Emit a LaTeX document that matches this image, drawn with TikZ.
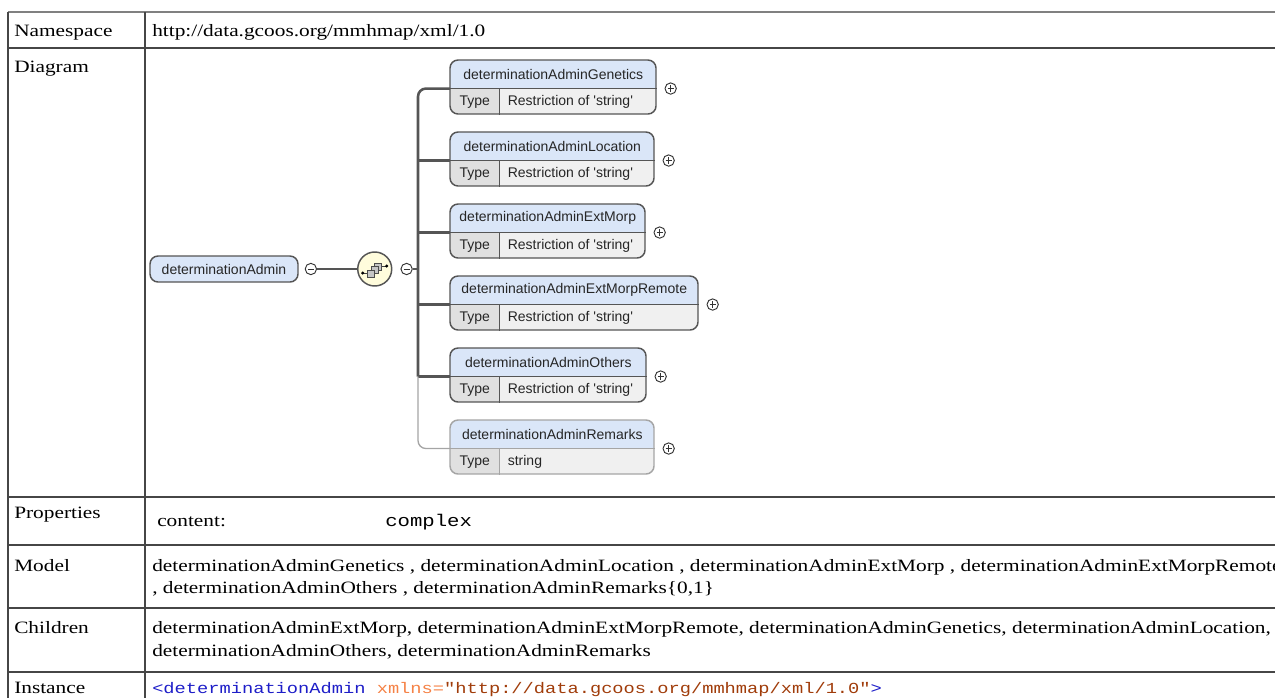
\documentclass[tikz,border=0pt]{standalone}
\usepackage{fontspec}
\setmainfont{Liberation Serif}[FakeStretch=1.23]
\setmonofont{Liberation Mono}[FakeStretch=1.22]
\newfontfamily\xsdfont{Liberation Sans}
\usetikzlibrary{positioning}
\definecolor{headblue}{RGB}{218,230,248}
\definecolor{typegray}{RGB}{240,240,240}
\definecolor{keygray}{RGB}{224,224,224}
\definecolor{seqyellow}{RGB}{255,252,220}
\definecolor{edgegray}{RGB}{85,85,85}
\definecolor{optgray}{RGB}{165,165,165}
\definecolor{tagblue}{RGB}{30,30,200}
\definecolor{attrorange}{RGB}{245,130,70}
\definecolor{valbrown}{RGB}{160,60,10}
\definecolor{rulegray}{RGB}{70,70,70}

\begin{document}
\begin{tikzpicture}[x=0.75pt,y=-0.75pt]
  \tikzstyle{every node}=[inner sep=0pt]
  \tikzstyle{cell}=[font=\fontsize{13}{15}\selectfont, anchor=base west]
  \tikzstyle{tablerule}=[draw=rulegray, line width=0.9pt]
  \tikzstyle{elem}=[font=\xsdfont\fontsize{10.5}{12}\selectfont, text=black!85]
  \tikzstyle{elemline}=[draw=edgegray, line width=1.1pt]
  \tikzstyle{optline}=[draw=optgray, line width=1.1pt]
  \tikzstyle{trunk}=[draw=edgegray, line width=1.9pt]
  \tikzstyle{signbox}=[circle, draw=black!80, fill=white, line width=0.7pt, minimum size=8.5pt]
  \tikzstyle{plussign}=[signbox, path picture={\draw[line width=0.7pt]
      ([xshift=-2.3pt]path picture bounding box.center) -- ([xshift=2.3pt]path picture bounding box.center)
      ([yshift=-2.3pt]path picture bounding box.center) -- ([yshift=2.3pt]path picture bounding box.center);}]
  \tikzstyle{minussign}=[signbox, path picture={\draw[line width=0.7pt]
      ([xshift=-2.3pt]path picture bounding box.center) -- ([xshift=2.3pt]path picture bounding box.center);}]

  \useasboundingbox (0,0) rectangle (1275,697);

  \draw[tablerule, draw=gray] (8,12) -- (1290,12);
  \draw[tablerule] (8,12) -- (8,710) (145,12) -- (145,710);
  \foreach \y in {48,497,545,608,672} \draw[tablerule] (8,\y) -- (1290,\y);

  \node[cell] (ns_l) at (14,36) {Namespace};
  \node[cell] (ns_v) at (152,36) {http://data.gcoos.org/mmhmap/xml/1.0};
  \node[cell] (dg_l) at (14,72) {Diagram};
  \node[cell] (pr_l) at (14,518) {Properties};
  \node[cell] (pr_k) at (157,526) {content:};
  \node[cell, font=\ttfamily\fontsize{12.7}{14}\selectfont] (pr_v) at (385,526) {complex};
  \node[cell] (md_l) at (14,571) {Model};
  \node[cell] (md_1) at (152,571) {determinationAdminGenetics , determinationAdminLocation , determinationAdminExtMorp , determinationAdminExtMorpRemote};
  \node[cell] (md_2) at (152,593) {, determinationAdminOthers , determinationAdminRemarks\{0,1\}};
  \node[cell] (ch_l) at (14,633) {Children};
  \node[cell] (ch_1) at (152,633) {determinationAdminExtMorp, determinationAdminExtMorpRemote, determinationAdminGenetics, determinationAdminLocation,};
  \node[cell] (ch_2) at (152,656) {determinationAdminOthers, determinationAdminRemarks};
  \node[cell] (in_l) at (14,693) {Instance};
  \node[cell, font=\ttfamily\fontsize{11.5}{13}\selectfont] (in_v) at (152,693)
    {\textcolor{tagblue}{<determinationAdmin} \textcolor{attrorange}{xmlns=}\textcolor{valbrown}{"http://data.gcoos.org/mmhmap/xml/1.0"}\textcolor{tagblue}{>}};

  \node[elem, draw=edgegray, line width=1.1pt, fill=headblue, rounded corners=6pt,
        minimum width=148*0.75pt, minimum height=26*0.75pt] (e_0) at (224,269) {determinationAdmin};
  \node[minussign, right=4.5pt of e_0] (m_0) {};
  \node[circle, draw=edgegray, fill=seqyellow, line width=1.1pt, minimum size=25.5pt, right=30pt of m_0] (s_0) {};
  \node[minussign, right=6pt of s_0] (m_1) {};
  \coordinate (fork) at (418,269);

  \draw[trunk, line width=1.5pt] (m_0) -- (s_0);
  \draw[trunk] (m_1) -- (fork);

  \begin{scope}[shift={(s_0.center)}, line width=0.5pt]
    \draw[black!75] (-12,4) -- (-7,4) (7,-3) -- (12,-3);
    \fill[black] (-12,4) circle (1.3pt) (12,-3) circle (1.3pt);
    \filldraw[fill=gray!45, draw=black!70] (0,-6) rectangle (7,1);
    \filldraw[fill=gray!45, draw=black!70] (-3.5,-2.5) rectangle (3.5,4.5);
    \filldraw[fill=gray!45, draw=black!70] (-7,1) rectangle (0,8);
  \end{scope}

  \foreach \n/\y/\w/\t/\v/\s in {
      1/60/206/determinationAdminGenetics/Restriction of \textquotesingle string\textquotesingle/elemline,
      2/132/204/determinationAdminLocation/Restriction of \textquotesingle string\textquotesingle/elemline,
      3/204/195/determinationAdminExtMorp/Restriction of \textquotesingle string\textquotesingle/elemline,
      4/276/248/determinationAdminExtMorpRemote/Restriction of \textquotesingle string\textquotesingle/elemline,
      5/348/196/determinationAdminOthers/Restriction of \textquotesingle string\textquotesingle/elemline,
      6/420/204/determinationAdminRemarks/string/optline}
  {
    \begin{scope}
      \clip[rounded corners=6pt] (450,\y) rectangle ++(\w,54);
      \fill[typegray] (450,\y) rectangle ++(\w,54);
      \fill[headblue] (450,\y) rectangle ++(\w,28);
      \fill[keygray] (450,\y+28) rectangle ++(49,26);
    \end{scope}
    \node[elem, anchor=north west, minimum width=\w*0.75pt, minimum height=21pt] (e_\n) at (450,\y) {\t};
    \node[elem, anchor=north west, minimum width=36.75pt, minimum height=19.5pt] (t_\n) at (e_\n.south west) {Type};
    \node[elem, anchor=west, xshift=6pt] (v_\n) at (t_\n.east) {\v};
    \draw[\s, rounded corners=6pt] (450,\y) rectangle ++(\w,54);
    \draw[\s] (e_\n.south west) -- (e_\n.south east) (t_\n.north east) -- (t_\n.south east);
    \node[plussign, right=6pt of e_\n.south east] (p_\n) {};
  }

  \draw[trunk, rounded corners=6pt] (e_1.south west) -| (fork |- e_5.south west);
  \foreach \n in {2,...,5} \draw[trunk] (fork |- e_\n.south west) -- (e_\n.south west);
  \draw[optline, line width=1pt, rounded corners=6pt] (fork |- e_5.south west) |- (e_6.south west);
\end{tikzpicture}
\end{document}
